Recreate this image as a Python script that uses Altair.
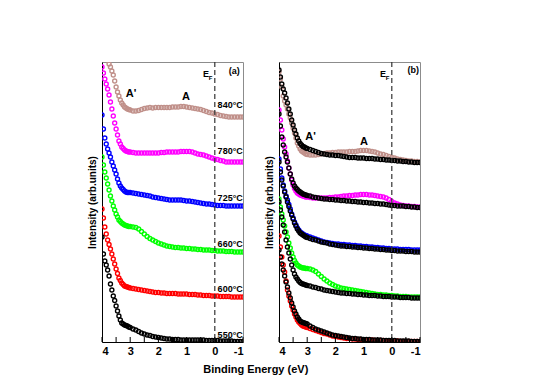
import altair as alt
import pandas as pd

FONT = "Liberation Sans"

# Binding energy grid (eV)
energy = [4.0, 3.95, 3.9, 3.85, 3.8, 3.75, 3.7, 3.65, 3.6, 3.55, 3.5, 3.45, 3.4, 3.35, 3.3,
          3.25, 3.2, 3.15, 3.1, 3.05, 3.0,
          2.9, 2.8, 2.7, 2.6, 2.5, 2.4, 2.3, 2.2, 2.1, 2.0,
          1.9, 1.8, 1.7, 1.6, 1.5, 1.4, 1.3, 1.2, 1.1, 1.0,
          0.9, 0.8, 0.7, 0.6, 0.5, 0.4, 0.3, 0.2, 0.1, 0.0,
          -0.1, -0.2, -0.3, -0.4, -0.5, -0.6, -0.7, -0.8, -0.9, -1.0]

# ---- panel (a): offset spectra ----
a_840 = [300, 295, 290, 286, 282, 278, 275, 271, 267, 261, 255, 250, 246, 242, 239, 237, 235, 234, 233, 232.5, 232,
         231, 231, 231.5, 232.5, 233.5, 234, 234.5, 234, 234.5, 234.5,
         234.5, 234.5, 234.5, 234.5, 235, 235, 235, 235.5, 235.5, 235,
         234.5, 234, 233.5, 233, 232.5, 231.5, 230.5, 229.5, 229, 228,
         227.5, 226.5, 226, 225.5, 225, 225, 225, 225, 225, 225]
a_780 = [275, 269, 263, 258, 253, 247, 240, 233, 226, 219, 213, 207, 201, 198, 195, 193.5, 192, 191, 190.5, 190, 190,
         189.5, 189, 189, 189, 189, 189, 189, 189, 189, 189,
         189.5, 189.5, 190, 190, 190, 190, 190, 190.5, 190.5, 190.5,
         190.5, 190, 189, 188, 187.5, 187, 186, 185, 184, 183,
         182.5, 181.5, 181, 180, 180, 180, 180, 180, 180, 180]
a_725 = [227, 213, 204, 198, 193, 189, 185, 180, 176, 172, 168, 163, 159, 156, 154, 152.5, 151, 150, 149.5, 149.5, 149.5,
         149, 148.5, 148, 147.5, 147, 146.5, 146, 145, 144.5, 144,
         143.5, 143, 142.5, 142, 142, 142, 142, 142, 141.5, 141,
         141, 140.5, 140, 139.5, 139, 138.5, 138, 138, 137.5, 137,
         136.5, 136.5, 136.5, 136, 136, 136, 136, 136, 136, 136]
a_660 = [185, 177, 170, 164, 158, 152, 146, 141, 136, 132, 128, 125, 122, 120.5, 119, 118, 117, 116.5, 116, 115.5, 115.5,
         115, 114.5, 113, 110.5, 108, 105.5, 103.5, 102, 100.5, 99,
         98, 97, 96, 95.5, 95, 94.5, 94.5, 94, 94, 93.5,
         93.5, 93, 93, 92.5, 92.5, 92, 92, 92, 91.5, 91.5,
         91, 91, 91, 90.5, 90.5, 90.5, 90, 90, 90, 90]
a_600 = [133, 124, 115, 108, 102, 97.5, 93, 88, 83, 78, 73, 68.5, 64, 61.5, 59, 57.5, 56, 55.5, 55, 54.5, 54,
         53.5, 53, 52.5, 52, 51.5, 51, 50.5, 50, 49.5, 49.5,
         49, 49, 48.5, 48.5, 48.5, 48.5, 48, 48, 48, 48,
         47.5, 47.5, 47.5, 47, 47, 46.5, 46.5, 46.5, 46, 46,
         46, 45.5, 45.5, 45.5, 45.5, 45, 45, 45, 45, 45]
a_550 = [105, 88, 81, 77, 72, 66, 58, 52, 46, 41.5, 36, 31, 26, 22, 19, 18, 17, 16.5, 16, 15, 14.5,
         13, 12, 10.5, 9, 8, 7, 6.5, 5.5, 5, 4.5,
         4, 3.5, 3, 3, 2.5, 2.5, 2.5, 2, 2, 2,
         2, 2, 2, 2, 2, 2, 1.5, 1.5, 1.5, 1.5,
         1.5, 1, 1, 1, 1, 1, 0.5, 0.5, 0.5, 0.5]

# ---- panel (b): each spectrum with the 550°C reference (black) ----
b_840 = [270, 263, 255, 246, 241, 237, 233, 228, 224, 219, 214, 209, 204, 199, 196, 193, 191, 190, 189, 188, 187.5,
         187, 187, 187, 187.5, 188, 188.5, 189, 189, 189.5, 189.5,
         190, 190, 190, 190, 190.5, 190.5, 190.5, 191, 191.5, 191.5,
         191.5, 191, 190.5, 190, 189, 188, 187.5, 186.5, 185.5, 184.5,
         184, 183, 182.5, 182, 181.5, 181, 181, 180.5, 180.5, 180]
b_ref1 = [272, 265, 258, 253, 249, 244, 239, 233, 228, 222, 217, 212, 208, 204, 201, 198.5, 197, 195.5, 195, 194, 193.5,
          192.5, 191.5, 190.5, 189.5, 188.5, 188, 187.5, 187, 187, 186.5,
          186.5, 186, 185.5, 185, 184.5, 184.5, 184.5, 184, 184, 184,
          183.5, 183.5, 183.5, 183, 183, 182.5, 182.5, 182, 182, 181.5,
          181.5, 181, 181, 180.5, 180.5, 180, 180, 179.5, 179.5, 179.5]
b_780 = [232, 222, 212, 203, 195, 188, 181, 174, 168, 162, 157, 153.5, 151, 149, 148, 147, 146.5, 146, 145.5, 145, 145,
         144.5, 144, 144, 144, 144, 144, 144, 144.5, 144.5, 145,
         145, 145.5, 146, 146, 146.5, 146.5, 147, 147, 147.5, 147.5,
         147.5, 147, 147, 146.5, 146, 145.5, 145, 144, 142.5, 140.5,
         139, 138, 137, 136.5, 136, 136, 135.5, 135.5, 135, 135]
b_ref2 = [228, 216, 205, 197, 190, 185, 180, 174, 168, 163, 159, 156, 154, 152.5, 151, 150, 149, 148, 147.5, 147, 146.5,
          146, 145, 144.5, 144, 143.5, 143, 143, 142.5, 142.5, 142,
          142, 141.5, 141.5, 141, 141, 140.5, 140.5, 140, 140, 139.5,
          139.5, 139, 139, 138.5, 138.5, 138, 138, 137.5, 137, 136.5,
          136.5, 136, 136, 136, 135.5, 135.5, 135, 135, 134.5, 134.5]
b_725 = [183, 173, 164, 157, 151, 146, 142, 137.5, 133, 128, 124, 120, 117, 114, 112, 110, 109, 108, 107, 106.5, 106,
         105, 104, 103, 102, 101, 100, 99.5, 99, 98.5, 98,
         98, 97.5, 97.5, 97, 97, 96.5, 96.5, 96, 96, 95.5,
         95.5, 95, 95, 94.5, 94.5, 94, 94, 93.5, 93.5, 93,
         93, 93, 92.5, 92.5, 92.5, 92.5, 92, 92, 92, 92]
b_ref3 = [180, 170, 162, 156, 150, 145, 140, 135.5, 131, 127, 123, 119, 116, 113, 111, 109, 108, 107, 106, 105, 104.5,
          103.5, 102.5, 102, 101, 100, 99.5, 99, 98, 97.5, 97,
          96.5, 96, 96, 95.5, 95.5, 95, 95, 94.5, 94.5, 94,
          94, 93.5, 93.5, 93, 93, 92.5, 92.5, 92, 92, 91.5,
          91.5, 91, 91, 91, 90.5, 90.5, 90.5, 90, 90, 90]
b_660 = [143, 135, 128, 122, 116, 110, 105, 99, 94, 89, 85, 81.5, 79, 77, 76, 75, 74.5, 74, 74, 73.5, 73.5,
         73, 72, 70.5, 68, 65.5, 63, 61, 59, 57.5, 56,
         55, 54, 53.5, 53, 52.5, 52, 51.5, 51, 50.5, 50,
         49.5, 49, 48.5, 48, 47.5, 47.5, 47, 47, 46.5, 46.5,
         46, 46, 45.5, 45.5, 45.5, 45, 45, 45, 45, 45]
b_ref4 = [140, 132, 125, 117, 110, 102, 95, 89, 83, 77, 72, 68, 65, 63, 61, 59.5, 58.5, 58, 57.5, 57, 56.5,
          56, 55, 54.5, 53.5, 53, 52, 51.5, 51, 50.5, 50,
          49.5, 49, 49, 48.5, 48.5, 48, 48, 47.5, 47.5, 47,
          47, 46.5, 46.5, 46.5, 46, 46, 45.5, 45.5, 45.5, 45,
          45, 45, 44.5, 44.5, 44.5, 44.5, 44, 44, 44, 44]
b_600 = [106, 95, 85, 77, 70, 61, 52, 46, 41, 36, 32, 28, 25, 22, 20, 18.5, 17, 16, 15.5, 15, 14.5,
         13.5, 12.5, 11.5, 10.5, 9.5, 8.5, 8, 7, 6, 5.5,
         5, 4.5, 4, 3.5, 3.5, 3, 3, 2.5, 2.5, 2,
         2, 2, 2, 1.5, 1.5, 1.5, 1.5, 1, 1, 1,
         1, 1, 0.5, 0.5, 0.5, 0.5, 0.5, 0.5, 0.5, 0.5]
b_ref5 = [92, 85, 78, 72, 66, 60, 55, 49, 44, 39, 35, 31, 28, 25, 23, 21, 20, 19.5, 19, 18.5, 18,
          16, 14.5, 13, 12, 11, 10, 9, 8, 7, 6.5,
          6, 5.5, 5, 4.5, 4, 3.5, 3.5, 3, 3, 2.5,
          2.5, 2.5, 2, 2, 2, 2, 1.5, 1.5, 1.5, 1.5,
          1.5, 1, 1, 1, 1, 1, 0.5, 0.5, 0.5, 0.5]

colors = {"840": "#c0908a", "780": "#ff00ff", "725": "#0000ff",
          "660": "#00ff00", "600": "#ff0000", "550": "#000000"}

series_a = [("840", a_840), ("780", a_780), ("725", a_725),
            ("660", a_660), ("600", a_600), ("550", a_550)]
series_b = [("840", b_840), ("780", b_780), ("725", b_725), ("660", b_660), ("600", b_600),
            ("550", b_ref1), ("550", b_ref2), ("550", b_ref3), ("550", b_ref4), ("550", b_ref5)]

temp_labels = ["840°C", "780°C", "725°C", "660°C", "600°C", "550°C"]
temp_label_I = [236.7, 190.7, 144.0, 98.3, 53.3, 6.7]
temp_label_E = [-0.1] * 6

peak_labels = ["A'", "A"]
peak_E_a = [2.97, 1.02]
peak_I_a = [248.0, 245.0]
peak_E_b = [2.88, 0.99]
peak_I_b = [205.0, 200.0]

tick_values = [4, 3.5, 3, 2.5, 2, 1.5, 1, 0.5, 0, -0.5, -1]
fermi = [0.0]


def points_frame(series):
    rows = []
    for key, vals in series:
        assert len(vals) == len(energy), (key, len(vals))
        for e, v in zip(energy, vals):
            rows.append({"E": e, "I": v, "col": colors[key]})
    return pd.DataFrame(rows)


xscale = alt.Scale(domain=[4, -1], nice=False, zero=False)
yscale = alt.Scale(domain=[0, 280], nice=False, zero=False)
xaxis = alt.Axis(values=[4, 3, 2, 1, 0, -1], ticks=False, grid=False, title=None,
                 labelExpr="datum.value < 0 ? '-' + abs(datum.value) : '' + datum.value",
                 labelFont=FONT, labelFontSize=11, labelFontWeight="bold", labelColor="black",
                 labelPadding=3, domainColor="black", domainWidth=1)
yaxis = alt.Axis(labels=False, ticks=False, grid=False, title="Intensity (arb.units)",
                 titleFont=FONT, titleFontSize=10, titleFontWeight="bold", titleColor="black",
                 titlePadding=5, domainColor="black", domainWidth=1)


def X(field="E"):
    return alt.X(f"{field}:Q", scale=xscale, axis=xaxis)


def Y(field="I"):
    return alt.Y(f"{field}:Q", scale=yscale, axis=yaxis)


def panel(series, tag, tag_E, tag_I, peak_E, peak_I, with_temps):
    pts = alt.Chart(points_frame(series)).mark_point(
        shape="circle", filled=False, size=16, strokeWidth=1.4, opacity=1, clip=True
    ).encode(x=X(), y=Y(), color=alt.Color("col:N", scale=None))

    ef = alt.Chart(pd.DataFrame({"E": fermi})).mark_rule(
        color="#333333", strokeDash=[5, 3], strokeWidth=1.2
    ).encode(x=X())

    ticks = alt.Chart(pd.DataFrame({"E": tick_values})).mark_rule(
        color="black", strokeWidth=1
    ).encode(x=X(), y=alt.value(280), y2=alt.value(275))

    ef_txt = alt.Chart(pd.DataFrame({"E": [0.31], "I": [268.0], "t": ["E"]})).mark_text(
        font=FONT, fontSize=9, fontWeight="bold", color="black"
    ).encode(x=X(), y=Y(), text="t:N")
    ef_sub = alt.Chart(pd.DataFrame({"E": [0.15], "I": [264.0], "t": ["F"]})).mark_text(
        font=FONT, fontSize=6, fontWeight="bold", color="black"
    ).encode(x=X(), y=Y(), text="t:N")

    tag_txt = alt.Chart(pd.DataFrame({"E": [tag_E], "I": [tag_I], "t": [tag]})).mark_text(
        font=FONT, fontSize=9, fontWeight="bold", color="black"
    ).encode(x=X(), y=Y(), text="t:N")

    peaks = alt.Chart(pd.DataFrame({"E": peak_E, "I": peak_I, "t": peak_labels})).mark_text(
        font=FONT, fontSize=11, fontWeight="bold", color="black"
    ).encode(x=X(), y=Y(), text="t:N")

    layers = [pts, ef, ticks, ef_txt, ef_sub, tag_txt, peaks]
    if with_temps:
        temps = alt.Chart(pd.DataFrame({"E": temp_label_E, "I": temp_label_I, "t": temp_labels})).mark_text(
            font=FONT, fontSize=9, fontWeight="bold", color="black", align="left"
        ).encode(x=X(), y=Y(), text="t:N")
        layers.append(temps)
    return alt.layer(*layers).properties(width=141, height=280)


left = panel(series_a, "(a)", -0.69, 270.7, peak_E_a, peak_I_a, True)
right = panel(series_b, "(b)", -0.76, 271.7, peak_E_b, peak_I_b, False)

chart = alt.hconcat(left, right, spacing=19).properties(
    padding={"left": 78, "top": 52, "right": 5, "bottom": 5},
    title=alt.TitleParams("Binding Energy (eV)", orient="bottom", anchor="middle",
                          font=FONT, fontSize=11, fontWeight="bold", color="black",
                          offset=7, dx=2),
).configure_view(stroke="#8c8c8c", strokeWidth=1)

chart.save("out.html", embed_options={"renderer": "svg", "actions": False})
